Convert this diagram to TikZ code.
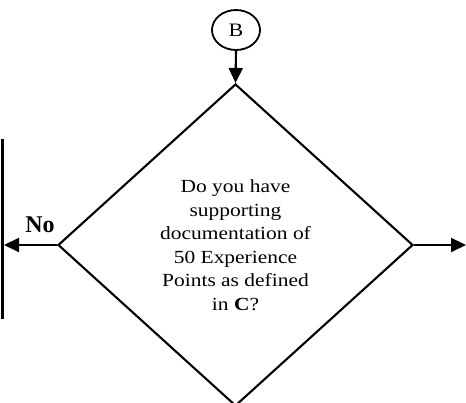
\documentclass[tikz,border=0pt]{standalone}
\usepackage{fontspec}
\setmainfont{Liberation Serif}[FakeStretch=1.16]
\newfontfamily\plainserif{Liberation Serif}
\usepackage{tikz}
\usetikzlibrary{shapes.geometric}
\usetikzlibrary{arrows.meta}
\tikzset{connector/.style={draw,ellipse,line width=1.8pt,minimum width=48pt,minimum height=40pt,inner sep=0pt,font=\fontsize{19}{22}\selectfont},
 decision/.style={draw,diamond,line width=2.1pt,minimum width=355pt,minimum height=322pt,inner sep=0pt,align=center,font=\fontsize{18.5}{23.5}\selectfont},
 flow/.style={line width=2.1pt,-{Triangle[length=15pt,width=14pt]}},
 }

\begin{document}
\begin{tikzpicture}[x=1pt,y=-1pt]
        \useasboundingbox (0,0) rectangle (466,403);
        \node[connector] (b) at (236, 30) {B};
        \node[decision] (q) at (235.5, 245) {Do you have\\ supporting\\ documentation of\\ 50 Experience\\ Points as defined\\ in \textbf{C}?};
        \coordinate (noend) at (4, 245);
        \coordinate (yesend) at (466, 245);
        \coordinate (bartop) at (2.5, 139);
        \coordinate (barbot) at (2.5, 319);

        \draw[flow] (b.south) -- (q.north);
        \draw[flow] (q.west) -- (noend);
        \draw[flow] (q.east) -- (yesend);
        \draw[line width=2.1pt] (bartop) -- (barbot);
        \node[anchor=base,font=\plainserif\fontsize{24}{28}\selectfont\bfseries] (no) at (40, 233) {No};
    \end{tikzpicture}
\end{document}
